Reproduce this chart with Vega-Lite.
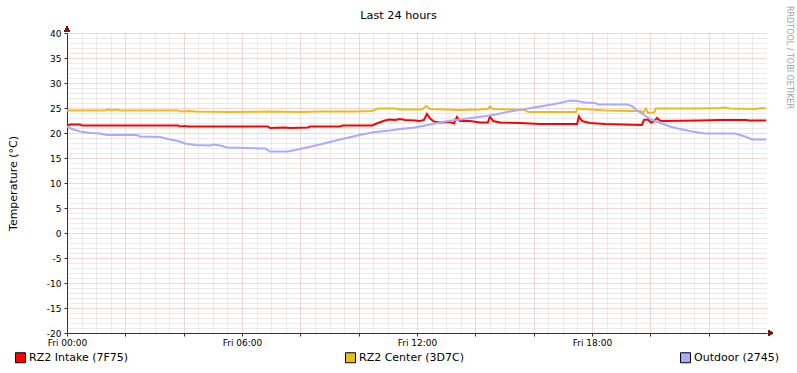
{
  "$schema": "https://vega.github.io/schema/vega-lite/v6.json",
  "width": 700,
  "height": 300,
  "autosize": "none",
  "padding": {"left": 67, "top": 33, "right": 30, "bottom": 40},
  "background": "white",
  "config": {"font": "DejaVu Sans", "view": {"stroke": null}},
  "data": {"values": [
    {"series": "RZ2 Intake (7F75)", "hour": 0.00, "temp": 21.5},
    {"series": "RZ2 Intake (7F75)", "hour": 0.10, "temp": 21.7},
    {"series": "RZ2 Intake (7F75)", "hour": 0.45, "temp": 21.7},
    {"series": "RZ2 Intake (7F75)", "hour": 0.51, "temp": 21.5},
    {"series": "RZ2 Intake (7F75)", "hour": 3.81, "temp": 21.5},
    {"series": "RZ2 Intake (7F75)", "hour": 3.87, "temp": 21.3},
    {"series": "RZ2 Intake (7F75)", "hour": 4.05, "temp": 21.4},
    {"series": "RZ2 Intake (7F75)", "hour": 4.15, "temp": 21.3},
    {"series": "RZ2 Intake (7F75)", "hour": 6.89, "temp": 21.3},
    {"series": "RZ2 Intake (7F75)", "hour": 6.96, "temp": 21.0},
    {"series": "RZ2 Intake (7F75)", "hour": 7.47, "temp": 21.1},
    {"series": "RZ2 Intake (7F75)", "hour": 7.65, "temp": 21.0},
    {"series": "RZ2 Intake (7F75)", "hour": 8.26, "temp": 21.1},
    {"series": "RZ2 Intake (7F75)", "hour": 8.33, "temp": 21.3},
    {"series": "RZ2 Intake (7F75)", "hour": 9.36, "temp": 21.3},
    {"series": "RZ2 Intake (7F75)", "hour": 9.46, "temp": 21.5},
    {"series": "RZ2 Intake (7F75)", "hour": 10.46, "temp": 21.5},
    {"series": "RZ2 Intake (7F75)", "hour": 10.66, "temp": 22.0},
    {"series": "RZ2 Intake (7F75)", "hour": 10.90, "temp": 22.5},
    {"series": "RZ2 Intake (7F75)", "hour": 11.07, "temp": 22.7},
    {"series": "RZ2 Intake (7F75)", "hour": 11.25, "temp": 22.6},
    {"series": "RZ2 Intake (7F75)", "hour": 11.42, "temp": 22.8},
    {"series": "RZ2 Intake (7F75)", "hour": 11.59, "temp": 22.6},
    {"series": "RZ2 Intake (7F75)", "hour": 11.93, "temp": 22.5},
    {"series": "RZ2 Intake (7F75)", "hour": 12.10, "temp": 22.4},
    {"series": "RZ2 Intake (7F75)", "hour": 12.24, "temp": 22.6},
    {"series": "RZ2 Intake (7F75)", "hour": 12.34, "temp": 23.8},
    {"series": "RZ2 Intake (7F75)", "hour": 12.45, "temp": 22.9},
    {"series": "RZ2 Intake (7F75)", "hour": 12.58, "temp": 22.3},
    {"series": "RZ2 Intake (7F75)", "hour": 12.79, "temp": 22.1},
    {"series": "RZ2 Intake (7F75)", "hour": 13.13, "temp": 22.2},
    {"series": "RZ2 Intake (7F75)", "hour": 13.27, "temp": 21.9},
    {"series": "RZ2 Intake (7F75)", "hour": 13.37, "temp": 23.2},
    {"series": "RZ2 Intake (7F75)", "hour": 13.47, "temp": 22.4},
    {"series": "RZ2 Intake (7F75)", "hour": 13.82, "temp": 22.4},
    {"series": "RZ2 Intake (7F75)", "hour": 14.16, "temp": 22.1},
    {"series": "RZ2 Intake (7F75)", "hour": 14.43, "temp": 22.1},
    {"series": "RZ2 Intake (7F75)", "hour": 14.50, "temp": 23.3},
    {"series": "RZ2 Intake (7F75)", "hour": 14.61, "temp": 22.4},
    {"series": "RZ2 Intake (7F75)", "hour": 14.85, "temp": 22.1},
    {"series": "RZ2 Intake (7F75)", "hour": 15.53, "temp": 22.0},
    {"series": "RZ2 Intake (7F75)", "hour": 16.22, "temp": 21.8},
    {"series": "RZ2 Intake (7F75)", "hour": 17.49, "temp": 21.8},
    {"series": "RZ2 Intake (7F75)", "hour": 17.55, "temp": 23.3},
    {"series": "RZ2 Intake (7F75)", "hour": 17.66, "temp": 22.4},
    {"series": "RZ2 Intake (7F75)", "hour": 17.93, "temp": 22.0},
    {"series": "RZ2 Intake (7F75)", "hour": 18.45, "temp": 21.8},
    {"series": "RZ2 Intake (7F75)", "hour": 19.71, "temp": 21.6},
    {"series": "RZ2 Intake (7F75)", "hour": 19.78, "temp": 22.6},
    {"series": "RZ2 Intake (7F75)", "hour": 19.92, "temp": 22.7},
    {"series": "RZ2 Intake (7F75)", "hour": 20.02, "temp": 22.1},
    {"series": "RZ2 Intake (7F75)", "hour": 20.13, "temp": 22.3},
    {"series": "RZ2 Intake (7F75)", "hour": 20.23, "temp": 23.0},
    {"series": "RZ2 Intake (7F75)", "hour": 20.33, "temp": 22.5},
    {"series": "RZ2 Intake (7F75)", "hour": 20.40, "temp": 22.4},
    {"series": "RZ2 Intake (7F75)", "hour": 21.70, "temp": 22.5},
    {"series": "RZ2 Intake (7F75)", "hour": 22.39, "temp": 22.6},
    {"series": "RZ2 Intake (7F75)", "hour": 23.25, "temp": 22.6},
    {"series": "RZ2 Intake (7F75)", "hour": 23.42, "temp": 22.5},
    {"series": "RZ2 Intake (7F75)", "hour": 23.97, "temp": 22.5},
    {"series": "RZ2 Center (3D7C)", "hour": 0.00, "temp": 24.5},
    {"series": "RZ2 Center (3D7C)", "hour": 1.30, "temp": 24.5},
    {"series": "RZ2 Center (3D7C)", "hour": 1.41, "temp": 24.7},
    {"series": "RZ2 Center (3D7C)", "hour": 1.54, "temp": 24.5},
    {"series": "RZ2 Center (3D7C)", "hour": 1.65, "temp": 24.7},
    {"series": "RZ2 Center (3D7C)", "hour": 1.82, "temp": 24.5},
    {"series": "RZ2 Center (3D7C)", "hour": 3.81, "temp": 24.5},
    {"series": "RZ2 Center (3D7C)", "hour": 3.87, "temp": 24.3},
    {"series": "RZ2 Center (3D7C)", "hour": 4.22, "temp": 24.4},
    {"series": "RZ2 Center (3D7C)", "hour": 4.39, "temp": 24.3},
    {"series": "RZ2 Center (3D7C)", "hour": 5.59, "temp": 24.2},
    {"series": "RZ2 Center (3D7C)", "hour": 6.96, "temp": 24.3},
    {"series": "RZ2 Center (3D7C)", "hour": 7.99, "temp": 24.2},
    {"series": "RZ2 Center (3D7C)", "hour": 8.67, "temp": 24.3},
    {"series": "RZ2 Center (3D7C)", "hour": 9.87, "temp": 24.3},
    {"series": "RZ2 Center (3D7C)", "hour": 10.46, "temp": 24.4},
    {"series": "RZ2 Center (3D7C)", "hour": 10.66, "temp": 24.9},
    {"series": "RZ2 Center (3D7C)", "hour": 11.25, "temp": 24.9},
    {"series": "RZ2 Center (3D7C)", "hour": 11.42, "temp": 24.7},
    {"series": "RZ2 Center (3D7C)", "hour": 12.17, "temp": 24.7},
    {"series": "RZ2 Center (3D7C)", "hour": 12.31, "temp": 25.4},
    {"series": "RZ2 Center (3D7C)", "hour": 12.45, "temp": 24.8},
    {"series": "RZ2 Center (3D7C)", "hour": 13.47, "temp": 24.6},
    {"series": "RZ2 Center (3D7C)", "hour": 14.16, "temp": 24.7},
    {"series": "RZ2 Center (3D7C)", "hour": 14.43, "temp": 24.8},
    {"series": "RZ2 Center (3D7C)", "hour": 14.50, "temp": 25.3},
    {"series": "RZ2 Center (3D7C)", "hour": 14.61, "temp": 24.8},
    {"series": "RZ2 Center (3D7C)", "hour": 15.19, "temp": 24.7},
    {"series": "RZ2 Center (3D7C)", "hour": 15.70, "temp": 24.6},
    {"series": "RZ2 Center (3D7C)", "hour": 15.81, "temp": 24.2},
    {"series": "RZ2 Center (3D7C)", "hour": 17.45, "temp": 24.2},
    {"series": "RZ2 Center (3D7C)", "hour": 17.49, "temp": 24.9},
    {"series": "RZ2 Center (3D7C)", "hour": 17.93, "temp": 24.7},
    {"series": "RZ2 Center (3D7C)", "hour": 18.45, "temp": 24.5},
    {"series": "RZ2 Center (3D7C)", "hour": 19.30, "temp": 24.4},
    {"series": "RZ2 Center (3D7C)", "hour": 19.68, "temp": 24.4},
    {"series": "RZ2 Center (3D7C)", "hour": 19.75, "temp": 24.0},
    {"series": "RZ2 Center (3D7C)", "hour": 19.85, "temp": 24.9},
    {"series": "RZ2 Center (3D7C)", "hour": 19.92, "temp": 24.0},
    {"series": "RZ2 Center (3D7C)", "hour": 20.13, "temp": 24.1},
    {"series": "RZ2 Center (3D7C)", "hour": 20.19, "temp": 24.9},
    {"series": "RZ2 Center (3D7C)", "hour": 21.70, "temp": 24.9},
    {"series": "RZ2 Center (3D7C)", "hour": 22.39, "temp": 25.0},
    {"series": "RZ2 Center (3D7C)", "hour": 22.56, "temp": 25.1},
    {"series": "RZ2 Center (3D7C)", "hour": 22.73, "temp": 24.9},
    {"series": "RZ2 Center (3D7C)", "hour": 23.59, "temp": 24.8},
    {"series": "RZ2 Center (3D7C)", "hour": 23.83, "temp": 25.0},
    {"series": "RZ2 Center (3D7C)", "hour": 23.97, "temp": 24.9},
    {"series": "Outdoor (2745)", "hour": 0.00, "temp": 21.3},
    {"series": "Outdoor (2745)", "hour": 0.17, "temp": 20.8},
    {"series": "Outdoor (2745)", "hour": 0.45, "temp": 20.3},
    {"series": "Outdoor (2745)", "hour": 0.79, "temp": 20.0},
    {"series": "Outdoor (2745)", "hour": 1.13, "temp": 19.9},
    {"series": "Outdoor (2745)", "hour": 1.37, "temp": 19.6},
    {"series": "Outdoor (2745)", "hour": 2.40, "temp": 19.6},
    {"series": "Outdoor (2745)", "hour": 2.50, "temp": 19.3},
    {"series": "Outdoor (2745)", "hour": 3.19, "temp": 19.2},
    {"series": "Outdoor (2745)", "hour": 3.46, "temp": 18.8},
    {"series": "Outdoor (2745)", "hour": 3.81, "temp": 18.4},
    {"series": "Outdoor (2745)", "hour": 4.05, "temp": 17.9},
    {"series": "Outdoor (2745)", "hour": 4.39, "temp": 17.6},
    {"series": "Outdoor (2745)", "hour": 4.90, "temp": 17.5},
    {"series": "Outdoor (2745)", "hour": 5.01, "temp": 17.7},
    {"series": "Outdoor (2745)", "hour": 5.25, "temp": 17.5},
    {"series": "Outdoor (2745)", "hour": 5.49, "temp": 17.1},
    {"series": "Outdoor (2745)", "hour": 6.79, "temp": 16.9},
    {"series": "Outdoor (2745)", "hour": 6.96, "temp": 16.3},
    {"series": "Outdoor (2745)", "hour": 7.58, "temp": 16.3},
    {"series": "Outdoor (2745)", "hour": 7.99, "temp": 16.8},
    {"series": "Outdoor (2745)", "hour": 8.67, "temp": 17.7},
    {"series": "Outdoor (2745)", "hour": 9.36, "temp": 18.7},
    {"series": "Outdoor (2745)", "hour": 10.11, "temp": 19.7},
    {"series": "Outdoor (2745)", "hour": 10.56, "temp": 20.2},
    {"series": "Outdoor (2745)", "hour": 11.07, "temp": 20.5},
    {"series": "Outdoor (2745)", "hour": 11.42, "temp": 20.8},
    {"series": "Outdoor (2745)", "hour": 11.93, "temp": 21.1},
    {"series": "Outdoor (2745)", "hour": 12.45, "temp": 21.7},
    {"series": "Outdoor (2745)", "hour": 12.96, "temp": 22.3},
    {"series": "Outdoor (2745)", "hour": 13.47, "temp": 22.7},
    {"series": "Outdoor (2745)", "hour": 13.99, "temp": 23.1},
    {"series": "Outdoor (2745)", "hour": 14.50, "temp": 23.5},
    {"series": "Outdoor (2745)", "hour": 15.19, "temp": 24.3},
    {"series": "Outdoor (2745)", "hour": 15.70, "temp": 24.8},
    {"series": "Outdoor (2745)", "hour": 16.32, "temp": 25.4},
    {"series": "Outdoor (2745)", "hour": 16.90, "temp": 26.0},
    {"series": "Outdoor (2745)", "hour": 17.25, "temp": 26.5},
    {"series": "Outdoor (2745)", "hour": 17.49, "temp": 26.4},
    {"series": "Outdoor (2745)", "hour": 17.76, "temp": 26.1},
    {"series": "Outdoor (2745)", "hour": 18.10, "temp": 26.0},
    {"series": "Outdoor (2745)", "hour": 18.21, "temp": 25.7},
    {"series": "Outdoor (2745)", "hour": 19.23, "temp": 25.7},
    {"series": "Outdoor (2745)", "hour": 19.40, "temp": 25.3},
    {"series": "Outdoor (2745)", "hour": 19.54, "temp": 24.5},
    {"series": "Outdoor (2745)", "hour": 19.71, "temp": 23.9},
    {"series": "Outdoor (2745)", "hour": 19.89, "temp": 23.2},
    {"series": "Outdoor (2745)", "hour": 20.06, "temp": 22.6},
    {"series": "Outdoor (2745)", "hour": 20.40, "temp": 21.9},
    {"series": "Outdoor (2745)", "hour": 20.67, "temp": 21.3},
    {"series": "Outdoor (2745)", "hour": 20.95, "temp": 20.9},
    {"series": "Outdoor (2745)", "hour": 21.43, "temp": 20.3},
    {"series": "Outdoor (2745)", "hour": 21.87, "temp": 19.9},
    {"series": "Outdoor (2745)", "hour": 22.90, "temp": 19.9},
    {"series": "Outdoor (2745)", "hour": 23.07, "temp": 19.6},
    {"series": "Outdoor (2745)", "hour": 23.25, "temp": 19.3},
    {"series": "Outdoor (2745)", "hour": 23.49, "temp": 18.7},
    {"series": "Outdoor (2745)", "hour": 23.97, "temp": 18.7}
  ]},
  "layer": [
    {
      "mark": {"type": "line", "strokeWidth": 2, "interpolate": "linear"},
      "encoding": {
        "x": {
          "field": "hour", "type": "quantitative",
          "scale": {"domain": [0, 24], "nice": false, "zero": false},
          "axis": {
            "title": null,
            "values": [0,0.5,1,1.5,2,2.5,3,3.5,4,4.5,5,5.5,6,6.5,7,7.5,8,8.5,9,9.5,10,10.5,11,11.5,12,12.5,13,13.5,14,14.5,15,15.5,16,16.5,17,17.5,18,18.5,19,19.5,20,20.5,21,21.5,22,22.5,23,23.5],
            "labelExpr": "datum.value % 6 === 0 ? 'Fri ' + (datum.value < 10 ? '0' : '') + datum.value + ':00' : ''",
            "labelOverlap": false,
            "labelFlush": false,
            "labelBound": false,
            "labelFontSize": 9,
            "labelColor": "black",
            "labelPadding": 2,
            "domainColor": "#3a2e2e",
            "tickColor": "#3a2e2e",
            "tickSize": 3,
            "tickOpacity": {"condition": {"test": "datum.value % 2 === 0", "value": 1}, "value": 0},
            "gridColor": {"condition": {"test": "datum.value % 2 === 0", "value": "#e6acac"}, "value": "#d6d6d6"},
            "gridOpacity": 1,
            "gridDash": [1, 1],
            "gridWidth": 1
          }
        },
        "y": {
          "field": "temp", "type": "quantitative",
          "scale": {"domain": [-20, 40], "nice": false, "zero": false},
          "axis": {
            "title": "Temperature (°C)",
            "titleFontSize": 11,
            "titleFontWeight": "normal",
            "titleColor": "black",
            "titlePadding": 28,
            "values": [-20,-19,-18,-17,-16,-15,-14,-13,-12,-11,-10,-9,-8,-7,-6,-5,-4,-3,-2,-1,0,1,2,3,4,5,6,7,8,9,10,11,12,13,14,15,16,17,18,19,20,21,22,23,24,25,26,27,28,29,30,31,32,33,34,35,36,37,38,39,40],
            "labelExpr": "datum.value % 5 === 0 ? '' + datum.value : ''",
            "labelOverlap": false,
            "labelFontSize": 9,
            "labelColor": "black",
            "labelPadding": 3,
            "domainColor": "#3a2e2e",
            "tickColor": "#3a2e2e",
            "tickSize": 3,
            "tickOpacity": {"condition": {"test": "datum.value % 5 === 0", "value": 1}, "value": 0},
            "gridColor": {"condition": {"test": "datum.value % 5 === 0", "value": "#e6acac"}, "value": "#d6d6d6"},
            "gridOpacity": 1,
            "gridDash": [1, 1],
            "gridWidth": 1
          }
        },
        "color": {
          "field": "series", "type": "nominal",
          "scale": {"domain": ["RZ2 Intake (7F75)", "RZ2 Center (3D7C)", "Outdoor (2745)"], "range": ["#FF0000", "#E8BE1E", "#AAAAFF"]},
          "legend": null
        }
      }
    },
    {
      "transform": [{"filter": "datum.hour === 0"}],
      "mark": {"type": "square", "filled": true, "opacity": 1, "size": 0},
      "encoding": {
        "x": {"field": "hour", "type": "quantitative", "axis": null},
        "y": {"field": "temp", "type": "quantitative", "axis": null},
        "fill": {
          "field": "series", "type": "nominal", "sort": null,
          "scale": {"range": ["#FF0000", "#E8BE1E", "#AAAAFF"]},
          "legend": {
            "title": null,
            "orient": "none",
            "legendX": -52,
            "legendY": 319,
            "direction": "horizontal",
            "columnPadding": 214,
            "symbolType": "square",
            "symbolSize": 100,
            "symbolStrokeColor": "black",
            "symbolStrokeWidth": 1,
            "symbolOpacity": 1,
            "labelFontSize": 11,
            "labelColor": "black",
            "labelOffset": 3
          }
        }
      }
    },
    {
      "mark": {"type": "point", "shape": "triangle-up", "filled": true, "size": 30, "color": "#7a1414", "opacity": 1},
      "encoding": {
        "x": {"datum": 0, "type": "quantitative", "axis": null},
        "y": {"datum": 40.8, "type": "quantitative", "axis": {"orient": "right", "title": "RRDTOOL / TOBI OETIKER", "domain": false, "ticks": false, "labels": false, "grid": false, "titleAngle": 90, "titleFontSize": 8, "titleFontWeight": "normal", "titleColor": "#a0a0a0", "titleX": 21, "titleY": 24, "titleAlign": "center", "titleBaseline": "middle"}}
      }
    },
    {
      "mark": {"type": "point", "shape": "triangle-right", "filled": true, "size": 30, "color": "#7a1414", "opacity": 1},
      "encoding": {
        "x": {"datum": 24.12, "type": "quantitative", "axis": {"orient": "top", "title": "Last 24 hours", "domain": false, "ticks": false, "labels": false, "grid": false, "titleX": 331, "titleY": -15, "titleAlign": "center", "titleBaseline": "alphabetic", "titleFontSize": 11.25, "titleFontWeight": "normal", "titleColor": "black"}},
        "y": {"datum": -20, "type": "quantitative", "axis": null}
      }
    }
  ],
  "resolve": {"axis": {"y": "independent", "x": "independent"}}
}
